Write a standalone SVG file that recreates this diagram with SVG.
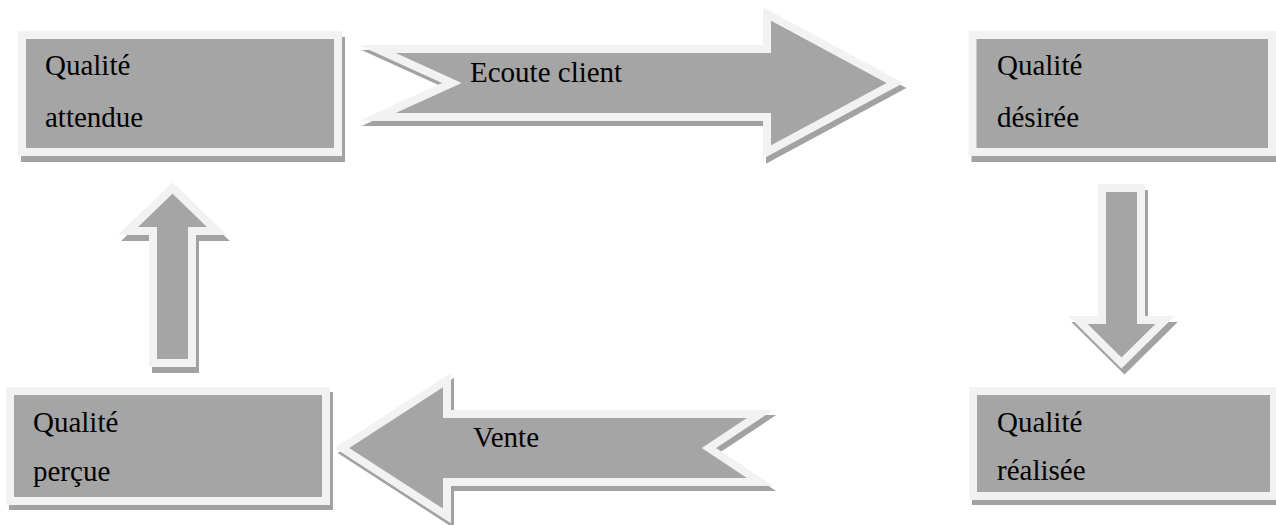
<svg xmlns="http://www.w3.org/2000/svg" width="1276" height="525" viewBox="0 0 1276 525">
  <style>
    .shape { fill: #a5a5a5; stroke: #f2f2f2; stroke-width: 8; stroke-linejoin: miter; stroke-miterlimit: 10; }
    .shadow { fill: #a2a2a2; stroke: #a2a2a2; stroke-width: 8; stroke-linejoin: miter; stroke-miterlimit: 10; }
    .label { font-family: "Liberation Serif", "Times New Roman", serif; font-size: 29px; fill: #000; }
  </style>
  <rect width="1276" height="525" fill="#ffffff"/>

  <!-- quality boxes -->
  <g id="qualite-attendue">
    <rect class="shadow" x="25" y="41" width="316" height="117"/>
    <rect class="shape" x="22" y="35" width="316" height="117"/>
    <text class="label" x="45" y="75">Qualité</text>
    <text class="label" x="45" y="127">attendue</text>
  </g>

  <g id="qualite-desiree">
    <rect class="shadow" x="975.5" y="41" width="300" height="117"/>
    <rect class="shape" x="972.5" y="35" width="299.5" height="117"/>
    <text class="label" x="997" y="75">Qualité</text>
    <text class="label" x="997" y="127">désirée</text>
  </g>

  <g id="qualite-realisee">
    <rect class="shadow" x="976" y="396" width="301" height="105"/>
    <rect class="shape" x="973" y="391" width="301" height="105"/>
    <text class="label" x="997" y="432">Qualité</text>
    <text class="label" x="997" y="480">réalisée</text>
  </g>

  <g id="qualite-percue">
    <rect class="shadow" x="13" y="396" width="316" height="110"/>
    <rect class="shape" x="10" y="391" width="316" height="110"/>
    <text class="label" x="33" y="432">Qualité</text>
    <text class="label" x="33" y="481">perçue</text>
  </g>

  <!-- block arrows between the boxes -->
  <g id="connectors">
    <g id="ecoute-client">
      <polygon class="shadow" transform="translate(3,5)" points="377,49 767,49 767,14 895,83 767,152 767,117 377,117 452,83"/>
      <polygon class="shape" points="377,49 767,49 767,14 895,83 767,152 767,117 377,117 452,83"/>
      <text class="label" x="470" y="82">Ecoute client</text>
    </g>
    <g id="desiree-realisee">
      <polygon class="shadow" transform="translate(3,6)" points="1102,188 1141,188 1141,320 1165,320 1121.5,363 1078,320 1102,320"/>
      <polygon class="shape" points="1102,188 1141,188 1141,320 1165,320 1121.5,363 1078,320 1102,320"/>
    </g>
    <g id="vente">
      <polygon class="shadow" transform="translate(3,5)" points="760,414 447,414 447,380 342,448 447,516 447,482 760,482 709,448"/>
      <polygon class="shape" points="760,414 447,414 447,380 342,448 447,516 447,482 760,482 709,448"/>
      <text class="label" x="473" y="447">Vente</text>
    </g>
    <g id="percue-attendue">
      <polygon class="shadow" transform="translate(3,6)" points="153,363 192,363 192,231 217,231 172.5,188 128,231 153,231"/>
      <polygon class="shape" points="153,363 192,363 192,231 217,231 172.5,188 128,231 153,231"/>
    </g>
  </g>
</svg>
